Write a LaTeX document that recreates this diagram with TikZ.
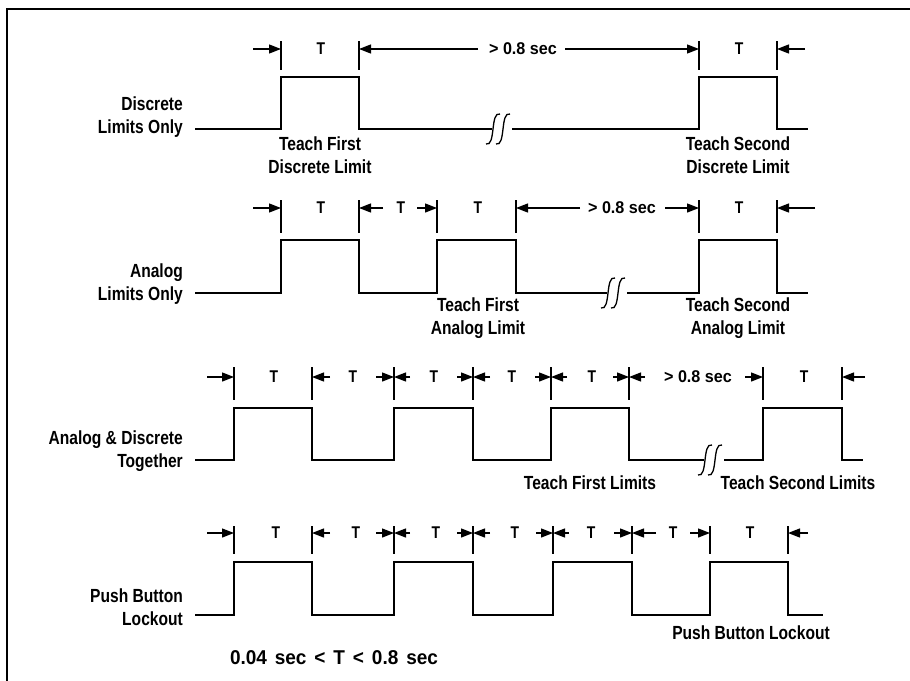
\documentclass[tikz,border=0pt]{standalone}
\usepackage{fontspec}
\setmainfont{Liberation Sans}[FakeStretch=0.82]
\newfontfamily\widefont{Liberation Sans}[FakeStretch=0.95]
\usetikzlibrary{arrows.meta}
\tikzset{
  wave/.style={line width=1.8pt, line join=miter, line cap=butt},
  tick/.style={line width=1.2pt},
  arr/.style={line width=1.3pt, -{Triangle[length=12pt,width=9pt]}},
  lbl/.style={font=\bfseries\fontsize{19}{23}\selectfont, inner sep=0pt, align=center},
  rowlbl/.style={font=\bfseries\fontsize{19}{23}\selectfont, inner sep=0pt, align=right, anchor=east},
  tlbl/.style={font=\bfseries\fontsize{17}{18}\selectfont, inner sep=0pt},
  glbl/.style={font=\widefont\bfseries\fontsize{17}{18}\selectfont, inner sep=0pt},
  brk/.style={line width=1.3pt}
}
\newcommand{\squig}[2]{%
  \draw[brk] (#1-8,#2+15) .. controls (#1+2,#2+18) and (#1-4,#2-18) .. (#1+6,#2-15);
  \draw[brk] (#1+2,#2+15) .. controls (#1+12,#2+18) and (#1+6,#2-18) .. (#1+16,#2-15);}
\begin{document}
\begin{tikzpicture}[x=1pt,y=-1pt]
\useasboundingbox (0,0) rectangle (910,680);
\fill[white] (0,0) rectangle (910,680);
% frame (left and top edges)
\draw[line width=2.4pt] (7,681) -- (7,9) -- (911,9);

% ===== Row 1: Discrete Limits Only =====
\node[rowlbl] (r1) at (183,117) {Discrete\\Limits Only};
\draw[wave] (195,129) -- (281,129) -- (281,77) -- (359,77) -- (359,129) -- (699,129) -- (699,77) -- (777,77) -- (777,129) -- (808,129);
\fill[white] (492,122) rectangle (512,136);
\squig{494}{129}
\foreach \x in {281,359,699,777} \draw[tick] (\x,41) -- (\x,70);
\draw[arr] (253,49) -- (281,49);
\draw[arr] (478,49) -- (359,49);
\draw[arr] (565,49) -- (699,49);
\draw[arr] (805,49) -- (777,49);
\node[tlbl] (t11) at (321,49) {T};
\node[tlbl] (t12) at (739,49) {T};
\node[glbl] (g1) at (523,49) {> 0.8 sec};
\node[lbl] (l11) at (320,155) {Teach First\\Discrete Limit};
\node[lbl] (l12) at (738,155) {Teach Second\\Discrete Limit};

% ===== Row 2: Analog Limits Only =====
\node[rowlbl] (r2) at (183,284) {Analog\\Limits Only};
\draw[wave] (195,293) -- (281,293) -- (281,240) -- (359,240) -- (359,293) -- (437,293) -- (437,240) -- (516,240) -- (516,293) -- (699,293) -- (699,240) -- (777,240) -- (777,293) -- (808,293);
\fill[white] (607,286) rectangle (627,300);
\squig{609}{293}
\foreach \x in {281,359,437,516,699,777} \draw[tick] (\x,200) -- (\x,233);
\draw[arr] (253,208) -- (281,208);
\draw[arr] (383,208) -- (359,208);
\draw[arr] (417,208) -- (437,208);
\draw[arr] (580,208) -- (516,208);
\draw[arr] (665,208) -- (699,208);
\draw[arr] (815,208) -- (777,208);
\node[tlbl] (t21) at (321,208) {T};
\node[tlbl] (t22) at (401,208) {T};
\node[tlbl] (t23) at (478,208) {T};
\node[tlbl] (t24) at (739,208) {T};
\node[glbl] (g2) at (622,208) {> 0.8 sec};
\node[lbl] (l21) at (478,318) {Teach First\\Analog Limit};
\node[lbl] (l22) at (738,318) {Teach Second\\Analog Limit};

% ===== Row 3: Analog & Discrete Together =====
\node[rowlbl] (r3) at (183,451) {Analog \& Discrete\\Together};
\draw[wave] (195,460) -- (234,460) -- (234,408) -- (312,408) -- (312,460) -- (394,460) -- (394,408) -- (473,408) -- (473,460) -- (551,460) -- (551,408) -- (629,408) -- (629,460) -- (763,460) -- (763,408) -- (842,408) -- (842,460) -- (863,460);
\fill[white] (704,453) rectangle (724,467);
\squig{706}{460}
\foreach \x in {234,312,394,473,551,629,763,842} \draw[tick] (\x,367) -- (\x,400);
\draw[arr] (207,377) -- (234,377);
\draw[arr] (330,377) -- (312,377);
\draw[arr] (376,377) -- (394,377);
\draw[arr] (410,377) -- (394,377);
\draw[arr] (457,377) -- (473,377);
\draw[arr] (490,377) -- (473,377);
\draw[arr] (535,377) -- (551,377);
\draw[arr] (567,377) -- (551,377);
\draw[arr] (613,377) -- (629,377);
\draw[arr] (645,377) -- (629,377);
\draw[arr] (745,377) -- (763,377);
\draw[arr] (865,377) -- (842,377);
\node[tlbl] (t31) at (274,377) {T};
\node[tlbl] (t32) at (353,377) {T};
\node[tlbl] (t33) at (434,377) {T};
\node[tlbl] (t34) at (512,377) {T};
\node[tlbl] (t35) at (592,377) {T};
\node[tlbl] (t36) at (804,377) {T};
\node[glbl] (g3) at (698,377) {> 0.8 sec};
\node[lbl] (l31) at (590,483) {Teach First Limits};
\node[lbl] (l32) at (798,483) {Teach Second Limits};

% ===== Row 4: Push Button Lockout =====
\node[rowlbl] (r4) at (183,607) {Push Button\\Lockout};
\draw[wave] (195,615) -- (234,615) -- (234,562) -- (312,562) -- (312,615) -- (394,615) -- (394,562) -- (473,562) -- (473,615) -- (553,615) -- (553,562) -- (632,562) -- (632,615) -- (710,615) -- (710,562) -- (788,562) -- (788,615) -- (823,615);
\foreach \x in {234,312,394,473,553,632,710,788} \draw[tick] (\x,526) -- (\x,554);
\draw[arr] (207,533) -- (234,533);
\draw[arr] (330,533) -- (312,533);
\draw[arr] (376,533) -- (394,533);
\draw[arr] (410,533) -- (394,533);
\draw[arr] (457,533) -- (473,533);
\draw[arr] (490,533) -- (473,533);
\draw[arr] (536,533) -- (553,533);
\draw[arr] (569,533) -- (553,533);
\draw[arr] (614,533) -- (632,533);
\draw[arr] (656,533) -- (632,533);
\draw[arr] (690,533) -- (710,533);
\draw[arr] (808,533) -- (788,533);
\node[tlbl] (t41) at (276,533) {T};
\node[tlbl] (t42) at (356,533) {T};
\node[tlbl] (t43) at (436,533) {T};
\node[tlbl] (t44) at (515,533) {T};
\node[tlbl] (t45) at (591,533) {T};
\node[tlbl] (t46) at (673,533) {T};
\node[tlbl] (t47) at (750,533) {T};
\node[lbl] (l41) at (751,633) {Push Button Lockout};
\node[glbl, font=\widefont\bfseries\fontsize{20}{22}\selectfont] (note) at (334,658) {\makebox[208pt][s]{0.04 sec < T < 0.8 sec}};
\end{tikzpicture}
\end{document}
